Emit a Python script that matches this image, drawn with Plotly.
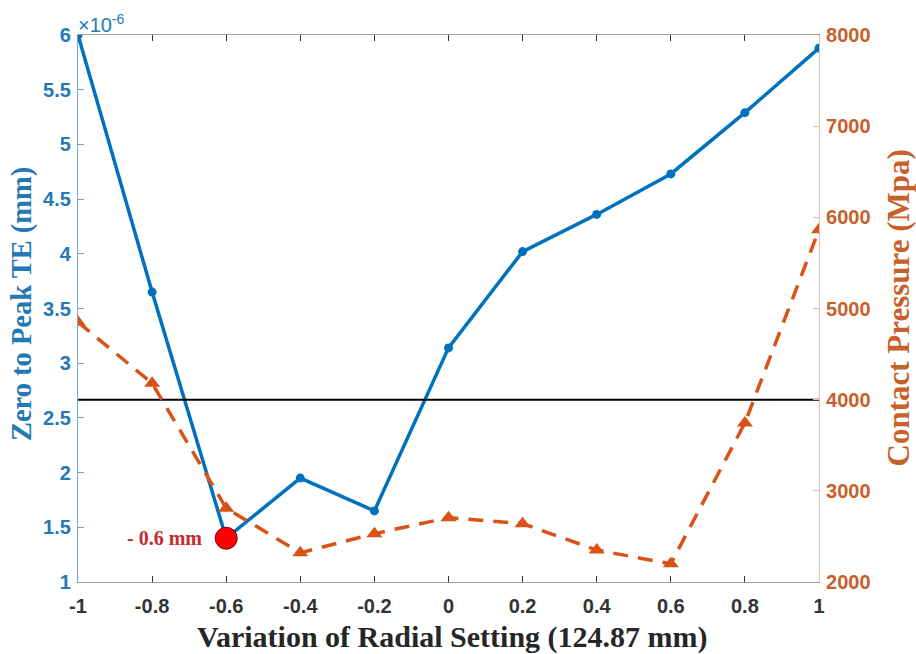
import plotly.graph_objects as go

# Radial setting variation (mm) relative to 124.87 mm
radial_setting = [-1.0, -0.8, -0.6, -0.4, -0.2, 0.0, 0.2, 0.4, 0.6, 0.8, 1.0]
# Zero-to-peak transmission error, in units of 1e-6 mm
te_peak = [6.0, 3.65, 1.40, 1.95, 1.65, 3.14, 4.02, 4.36, 4.73, 5.29, 5.88]
# Contact pressure (MPa)
contact_pressure = [4850, 4180, 2810, 2320, 2530, 2705, 2640, 2350, 2200, 3745, 5865]
# Reference pressure level
pressure_ref = 4000
# Highlighted optimum setting
opt_setting = -0.6
opt_te = 1.40

x_ticks = [-1, -0.8, -0.6, -0.4, -0.2, 0, 0.2, 0.4, 0.6, 0.8, 1]
x_ticktext = ["-1", "-0.8", "-0.6", "-0.4", "-0.2", "0", "0.2", "0.4", "0.6", "0.8", "1"]
y_ticks = [1, 1.5, 2, 2.5, 3, 3.5, 4, 4.5, 5, 5.5, 6]
y_ticktext = ["1", "1.5", "2", "2.5", "3", "3.5", "4", "4.5", "5", "5.5", "6"]
y2_ticks = [2000, 3000, 4000, 5000, 6000, 7000, 8000]

BLUE = "#0072BD"
BLUE_TXT = "#2479B5"
ORANGE = "#D95319"
ORANGE_TXT = "#C8602A"
SANS = "Liberation Sans, Arial, sans-serif"
SERIF = "Liberation Serif, Times New Roman, serif"

fig = go.Figure()

fig.add_trace(go.Scatter(
    x=[radial_setting[0], radial_setting[-1]], y=[pressure_ref, pressure_ref],
    mode="lines", line=dict(color="black", width=2), yaxis="y2",
    showlegend=False, hoverinfo="skip"))

fig.add_trace(go.Scatter(
    x=radial_setting, y=contact_pressure, mode="lines+markers", yaxis="y2",
    line=dict(color=ORANGE, width=3.5, dash="15px,10px"),
    marker=dict(symbol="triangle-up", size=14, color=ORANGE),
    showlegend=False))

fig.add_trace(go.Scatter(
    x=radial_setting, y=te_peak, mode="lines+markers",
    line=dict(color=BLUE, width=3.5),
    marker=dict(symbol="circle", size=9, color=BLUE),
    showlegend=False))

fig.add_trace(go.Scatter(
    x=[opt_setting], y=[opt_te], mode="markers",
    marker=dict(symbol="circle", size=22, color="#FF0000",
                line=dict(color="#7A0000", width=1)),
    showlegend=False))

fig.add_annotation(
    x=opt_setting, y=opt_te, xref="x", yref="y", text="<b>- 0.6 mm</b>",
    showarrow=False, xanchor="right", xshift=-22, yshift=0,
    font=dict(family=SERIF, size=20, color="#C62A2F"))

fig.add_annotation(
    x=0, y=1, xref="paper", yref="paper", text="×10<sup>-6</sup>",
    showarrow=False, xanchor="left", yanchor="bottom", xshift=-2, yshift=-3,
    font=dict(family=SANS, size=20, color=BLUE_TXT))

# Axis titles
fig.add_annotation(
    x=0, y=0.508, xref="paper", yref="paper", xshift=-56,
    text="<b>Zero to Peak TE (mm)</b>", textangle=-90, showarrow=False,
    xanchor="center", yanchor="middle",
    font=dict(family=SERIF, size=28.5, color=BLUE_TXT))
fig.add_annotation(
    x=1, y=0.50, xref="paper", yref="paper", xshift=79,
    text="<b>Contact Pressure (Mpa)</b>", textangle=-90, showarrow=False,
    xanchor="center", yanchor="middle",
    font=dict(family=SERIF, size=31, color=ORANGE_TXT))
fig.add_annotation(
    x=0.5, y=0, xref="paper", yref="paper", yshift=-55, xshift=4,
    text="<b>Variation of Radial Setting (124.87 mm)</b>", showarrow=False,
    xanchor="center", yanchor="middle",
    font=dict(family=SERIF, size=30, color="#262626"))

fig.update_layout(
    width=916, height=654,
    margin=dict(l=78, r=97, t=35, b=72),
    paper_bgcolor="white", plot_bgcolor="white",
    xaxis=dict(
        range=[-1, 1], tickvals=x_ticks, ticktext=x_ticktext,
        ticks="inside", ticklen=6, tickcolor="#333333",
        showline=True, linecolor="#A0A0A0", linewidth=1.2, mirror="ticks",
        showgrid=False, zeroline=False, ticklabelstandoff=6,
        tickfont=dict(family=SANS, size=20, color="#333333", weight="bold")),
    yaxis=dict(
        range=[1, 6], tickvals=y_ticks, ticktext=y_ticktext,
        ticks="inside", ticklen=6, tickcolor="#6FA6CF",
        showline=True, linecolor="#6FA6CF", linewidth=1.2,
        showgrid=False, zeroline=False, ticklabelstandoff=2,
        tickfont=dict(family=SANS, size=20, color=BLUE_TXT, weight="bold")),
    yaxis2=dict(
        range=[2000, 8000], tickvals=y2_ticks, overlaying="y", side="right",
        ticks="inside", ticklen=6, tickcolor="#D9C3AE",
        showline=True, linecolor="#D9C3AE", linewidth=1.2,
        showgrid=False, zeroline=False, ticklabelstandoff=2,
        tickfont=dict(family=SANS, size=20, color=ORANGE_TXT, weight="bold")),
)

fig.write_html("out.html")
